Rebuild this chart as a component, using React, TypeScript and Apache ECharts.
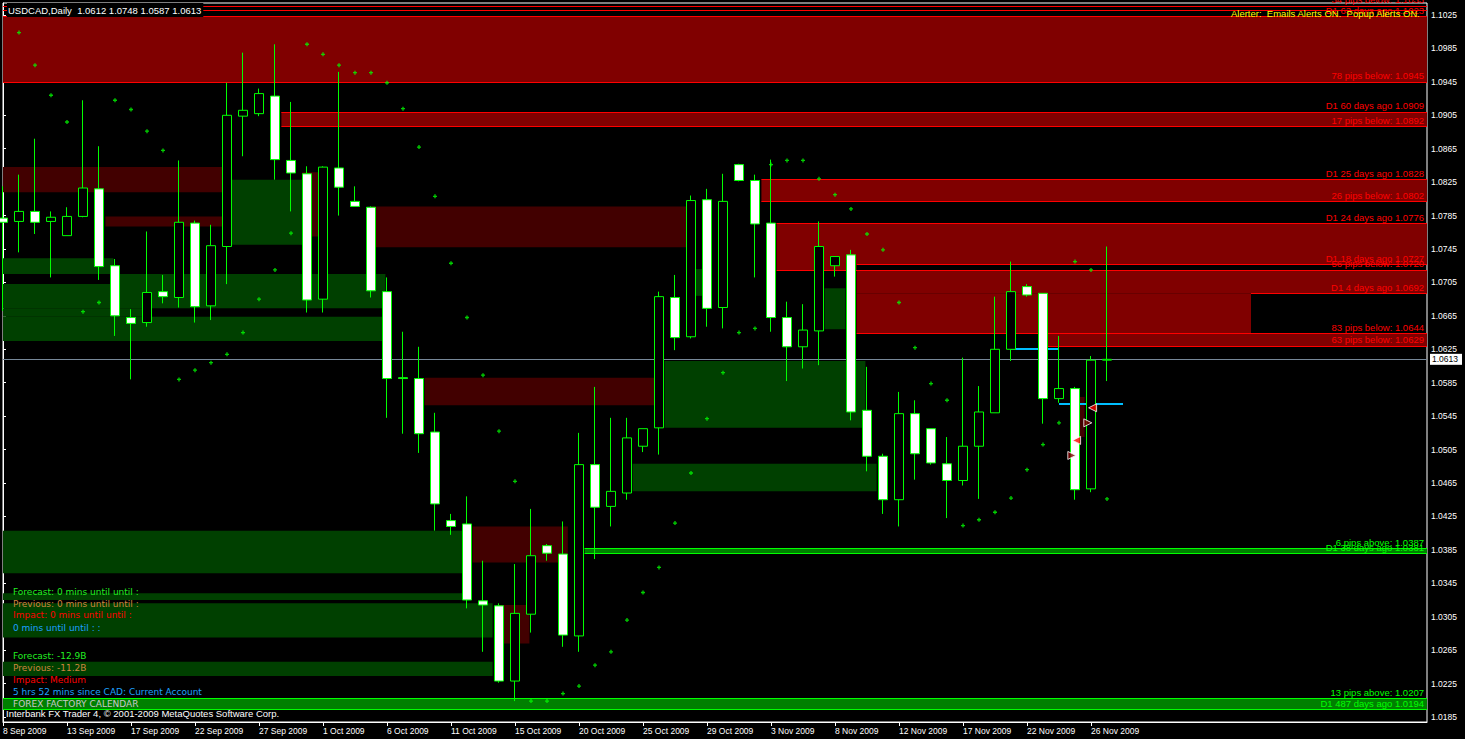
import React, { useEffect, useRef } from 'react';
import * as echarts from 'echarts';

// ---------- data ----------
const dates = [
  '8 Sep 2009','9 Sep 2009','10 Sep 2009','11 Sep 2009','13 Sep 2009','14 Sep 2009','15 Sep 2009','16 Sep 2009','17 Sep 2009','18 Sep 2009',
  '20 Sep 2009','21 Sep 2009','22 Sep 2009','23 Sep 2009','24 Sep 2009','25 Sep 2009','27 Sep 2009','28 Sep 2009','29 Sep 2009','30 Sep 2009',
  '1 Oct 2009','2 Oct 2009','4 Oct 2009','5 Oct 2009','6 Oct 2009','7 Oct 2009','8 Oct 2009','9 Oct 2009','11 Oct 2009','12 Oct 2009',
  '13 Oct 2009','14 Oct 2009','15 Oct 2009','16 Oct 2009','18 Oct 2009','19 Oct 2009','20 Oct 2009','21 Oct 2009','22 Oct 2009','23 Oct 2009',
  '25 Oct 2009','26 Oct 2009','27 Oct 2009','28 Oct 2009','29 Oct 2009','30 Oct 2009','1 Nov 2009','2 Nov 2009','3 Nov 2009','4 Nov 2009',
  '5 Nov 2009','6 Nov 2009','8 Nov 2009','9 Nov 2009','10 Nov 2009','11 Nov 2009','12 Nov 2009','13 Nov 2009','15 Nov 2009','16 Nov 2009',
  '17 Nov 2009','18 Nov 2009','19 Nov 2009','20 Nov 2009','22 Nov 2009','23 Nov 2009','24 Nov 2009','25 Nov 2009','26 Nov 2009','27 Nov 2009'
];
const opens = [
  1.0782,1.0778,1.0790,1.0778,1.0761,1.0784,1.0817,1.0725,1.0663,1.0657,
  1.0694,1.0687,1.0776,1.0677,1.0748,1.0904,1.0907,1.0928,1.0851,1.0835,
  1.0685,1.0842,1.0802,1.0795,1.0694,1.0591,1.0590,1.0526,1.0420,1.0416,
  1.0324,1.0318,1.0228,1.0308,1.0390,1.0380,1.0282,1.0487,1.0437,1.0453,
  1.0509,1.0531,1.0687,1.0640,1.0804,1.0675,1.0846,1.0827,1.0776,1.0663,
  1.0628,1.0647,1.0725,1.0738,1.0552,1.0497,1.0445,1.0548,1.0530,1.0488,
  1.0468,1.0509,1.0549,1.0625,1.0700,1.0692,1.0566,1.0578,1.0458,1.0612
];
const highs = [
  1.0820,1.0834,1.0877,1.0790,1.0795,1.0923,1.0868,1.0733,1.0673,1.0766,
  1.0714,1.0851,1.0779,1.0774,1.0944,1.0980,1.0937,1.0990,1.0921,1.0844,
  1.0844,1.0957,1.0820,1.0796,1.0711,1.0646,1.0628,1.0549,1.0428,1.0449,
  1.0372,1.0321,1.0368,1.0434,1.0392,1.0419,1.0525,1.0580,1.0543,1.0543,
  1.0530,1.0694,1.0714,1.0809,1.0817,1.0835,1.0847,1.0834,1.0852,1.0682,
  1.0679,1.0778,1.0736,1.0744,1.0604,1.0500,1.0574,1.0564,1.0530,1.0520,
  1.0615,1.0581,1.0688,1.0730,1.0703,1.0692,1.0641,1.0580,1.0617,1.0748
];
const lows = [
  1.0671,1.0741,1.0763,1.0711,1.0761,1.0783,1.0708,1.0641,1.0589,1.0652,
  1.0680,1.0675,1.0657,1.0660,1.0703,1.0856,1.0904,1.0828,1.0790,1.0669,
  1.0669,1.0785,1.0796,1.0687,1.0543,1.0524,1.0501,1.0408,1.0403,1.0315,
  1.0263,1.0226,1.0204,1.0286,1.0372,1.0269,1.0263,1.0374,1.0413,1.0445,
  1.0502,1.0499,1.0624,1.0638,1.0652,1.0650,1.0826,1.0711,1.0646,1.0587,
  1.0602,1.0606,1.0712,1.0540,1.0479,1.0428,1.0413,1.0469,1.0487,1.0423,
  1.0462,1.0446,1.0549,1.0611,1.0688,1.0536,1.0561,1.0445,1.0454,1.0587
];
const closes = [
  1.0777,1.0790,1.0777,1.0783,1.0784,1.0818,1.0724,1.0665,1.0656,1.0693,
  1.0688,1.0777,1.0676,1.0749,1.0905,1.0911,1.0931,1.0852,1.0836,1.0684,
  1.0843,1.0819,1.0796,1.0695,1.0590,1.0590,1.0524,1.0440,1.0413,1.0325,
  1.0319,1.0228,1.0309,1.0378,1.0381,1.0283,1.0487,1.0436,1.0455,1.0519,
  1.0530,1.0688,1.0639,1.0803,1.0674,1.0802,1.0827,1.0775,1.0663,1.0628,
  1.0648,1.0748,1.0736,1.0550,1.0497,1.0445,1.0548,1.0500,1.0489,1.0468,
  1.0509,1.0550,1.0625,1.0694,1.0690,1.0566,1.0578,1.0457,1.0612,1.0613
];
// Parabolic SAR
const sar = [
  null,1.1004,1.0965,1.0929,1.0897,1.0670,1.0681,1.0923,1.0912,1.0886,
  1.0863,1.0589,1.0600,1.0609,1.0619,1.0645,1.0685,1.0720,1.0764,1.0990,
  1.0978,1.0965,1.0956,1.0956,1.0944,1.0913,1.0867,1.0808,1.0728,1.0663,
  1.0594,1.0527,1.0467,1.0204,1.0204,1.0213,1.0222,1.0247,1.0263,1.0301,
  1.0334,1.0364,1.0417,1.0477,1.0542,1.0597,1.0645,1.0650,1.0846,1.0851,
  1.0851,1.0829,1.0810,1.0793,1.0763,1.0744,1.0681,1.0627,1.0584,1.0564,
  1.0414,1.0421,1.0430,1.0447,1.0481,1.0511,1.0537,1.0730,1.0720,1.0446
];
const yTicks = [
  1.0185,1.0225,1.0265,1.0305,1.0345,1.0385,1.0425,1.0465,1.0505,1.0545,1.0585,
  1.0625,1.0665,1.0705,1.0745,1.0785,1.0825,1.0865,1.0905,1.0945,1.0985,1.1025
];
const emptySlots = 20;
const priceMin = 1.0179;
const priceMax = 1.10394;

// zones: [startBar, endBar, top, bottom]
const brightRedZones = [
  [0, 89, 1.1023, 1.0945],
  [17.4, 89, 1.0909, 1.0892],
  [47.4, 89, 1.0828, 1.0802],
  [48.35, 89, 1.0776, 1.0727],
  [48.35, 53.35, 1.0727, 1.0720],
  [53.35, 89, 1.0720, 1.0692],
  [53.35, 78, 1.0692, 1.0644],
  [65.3, 89, 1.0644, 1.0629],
];
const darkRedZones = [
  [0, 13.7, 1.0843, 1.0813],
  [6.4, 13.7, 1.0784, 1.0772],
  [23.05, 42.7, 1.0796, 1.0747],
  [26.35, 40.7, 1.0591, 1.0558],
  [29.35, 35.3, 1.0413, 1.0370],
  [31.0, 32.9, 1.0319, 1.0273],
  [18.7, 20.0, 1.0837, 1.0760],
  [67.0, 67.6, 1.0568, 1.0520],
];
const darkGreenZones = [
  [14.2, 18.7, 1.0828, 1.0750],
  [0, 6.9, 1.0734, 1.0715],
  [6.9, 23.9, 1.0715, 1.0674],
  [0, 6.9, 1.0703, 1.0674],
  [0, 9.2, 1.0674, 1.0664],
  [0, 23.7, 1.0664, 1.0635],
  [41.35, 53.9, 1.0611, 1.0531],
  [51.35, 52.65, 1.0698, 1.0649],
  [42.9, 43.85, 1.0721, 1.0689],
  [39.35, 54.6, 1.0488, 1.0455],
  [0, 28.7, 1.0408, 1.0357],
  [0, 28.7, 1.0333, 1.0325],
  [0, 30.6, 1.0321, 1.0280],
  [0, 30.6, 1.0251, 1.0234],
];
const brightGreenZones = [
  [36.35, 89, 1.0387, 1.0381],
  [0, 89, 1.0207, 1.0194],
];
// levels: [startBar, price, label]
const redLevels: [number, number, string][] = [
  [0, 1.1036, '34 pips below: 1.1033'],
  [0, 1.1031, ''],
  [0, 1.1023, 'D1 63 days ago 1.1023'],
  [0, 1.0945, '78 pips below: 1.0945'],
  [17.4, 1.0909, 'D1 60 days ago 1.0909'],
  [17.4, 1.0892, '17 pips below: 1.0892'],
  [47.4, 1.0828, 'D1 25 days ago 1.0828'],
  [47.4, 1.0802, '26 pips below: 1.0802'],
  [48.35, 1.0776, 'D1 24 days ago 1.0776'],
  [53.35, 1.0727, 'D1 18 days ago 1.0727'],
  [48.35, 1.0720, '56 pips below: 1.0720'],
  [78, 1.0692, 'D1 4 days ago 1.0692'],
  [53.35, 1.0644, '83 pips below: 1.0644'],
  [65.3, 1.0629, '63 pips below: 1.0629'],
];
const greenLevels: [number, number, string][] = [
  [36.35, 1.0387, '6 pips above: 1.0387'],
  [36.35, 1.0381, 'D1 38 days ago 1.0381'],
  [0, 1.0207, '13 pips above: 1.0207'],
  [0, 1.0194, 'D1 487 days ago 1.0194'],
];
// [startBar, endBar, price]
const cyanSegments = [
  [63, 66, 1.0626],
  [66, 70, 1.0560],
];
const arrowBars = [68.1, 67.8, 67.1, 66.8];
const arrowPrices = [1.0555, 1.0537, 1.0516, 1.0498];
const arrowPointsLeft = [true, false, true, false];

const calendarLines: [string, string][] = [
  ['Forecast: 0 mins until until :', '#22ee22'],
  ['Previous: 0 mins until until :', '#cd853f'],
  ['Impact: 0 mins until until :', '#ff0000'],
  ['0 mins until until : :', '#1ea0ff'],
  ['Forecast: -12.9B', '#22ee22'],
  ['Previous: -11.2B', '#cd853f'],
  ['Impact: Medium', '#ff0000'],
  ['5 hrs 52 mins since CAD: Current Account', '#1ea0ff'],
  ['FOREX FACTORY CALENDAR', '#c8c8c8'],
];
const calendarTops = [587, 599, 610, 623, 651, 663, 675, 687, 699];

const MT = '"Liberation Sans", Arial, sans-serif';
const DV = '"DejaVu Sans", sans-serif';

export default function App() {
  const ref = useRef<HTMLDivElement>(null);
  useEffect(() => {
    if (!ref.current) return;
    const chart = echarts.init(ref.current, undefined, { renderer: 'svg' });
    const n = dates.length;
    const categories = dates.concat(Array.from({ length: emptySlots }, (_, i) => 'slot' + (n + i)));
    const lastIdx = categories.length - 1;
    const showTick = (i: number) => i < n && i % 4 === 0;
    const last = n - 1;
    const lastClose = closes[last];

    const zoneItems = (zones: number[][], color: string) =>
      zones.map((z) => [
        { coord: [z[0], z[2]], itemStyle: { color, borderWidth: 0 } },
        { coord: [Math.min(z[1], lastIdx), z[3]] },
      ]);
    const levelItems = (levels: [number, number, string][], color: string) =>
      levels.map(([s, p, t]) => [
        {
          coord: [s, p],
          lineStyle: { color, width: 1, type: 'solid' },
          label: {
            show: !!t,
            formatter: t,
            position: 'insideEndTop',
            distance: [3, 1],
            color,
            fontFamily: MT,
            fontSize: 9.5,
          },
        },
        { coord: [lastIdx, p] },
      ]);

    const option: any = {
      animation: false,
      backgroundColor: '#000',
      grid: {
        left: 3, right: 37, top: 3, bottom: 17,
        show: true, borderColor: '#fff', borderWidth: 1, backgroundColor: '#000',
      },
      xAxis: [
        {
          type: 'category',
          data: categories,
          boundaryGap: false,
          axisLine: { show: true, lineStyle: { color: '#fff' } },
          axisTick: { show: true, length: 4, interval: showTick, lineStyle: { color: '#fff' } },
          axisLabel: {
            interval: showTick,
            color: '#fff',
            fontFamily: MT,
            fontSize: 8.5,
            align: 'left',
            margin: 4,
            formatter: (v: string, i: number) => (i < n ? v : ''),
          },
          splitLine: { show: false },
        },
        { type: 'value', min: 0, max: lastIdx, show: false },
      ],
      yAxis: [
        {
          type: 'value',
          position: 'right',
          min: priceMin,
          max: priceMax,
          axisLine: { show: true, lineStyle: { color: '#fff' } },
          axisTick: { show: true, length: 3, customValues: yTicks, lineStyle: { color: '#fff' } },
          axisLabel: {
            customValues: yTicks,
            color: '#fff',
            fontFamily: MT,
            fontSize: 8.5,
            margin: 4,
            formatter: (v: number) => v.toFixed(4),
          },
          splitLine: { show: false },
        },
        {
          type: 'value',
          position: 'right',
          min: priceMin,
          max: priceMax,
          axisLine: { show: false },
          axisTick: { show: false },
          splitLine: { show: false },
          axisLabel: {
            customValues: [lastClose],
            formatter: (v: number) => v.toFixed(4),
            color: '#000',
            backgroundColor: '#fff',
            padding: [1, 4, 1, 2],
            margin: 3,
            fontFamily: MT,
            fontSize: 8.5,
          },
        },
      ],
      series: [
        {
          type: 'line', xAxisIndex: 1, yAxisIndex: 0, data: [], z: 1, silent: true,
          markArea: {
            silent: true,
            label: { show: false },
            data: [
              ...zoneItems(darkRedZones, '#420000'),
              ...zoneItems(darkGreenZones, '#004000'),
            ],
          },
        },
        {
          type: 'line', xAxisIndex: 1, yAxisIndex: 0, data: [], z: 2, silent: true,
          markArea: {
            silent: true,
            label: { show: false },
            data: [
              ...zoneItems(brightRedZones, '#800000'),
              ...zoneItems(brightGreenZones, '#008000'),
            ],
          },
        },
        {
          type: 'line', xAxisIndex: 1, yAxisIndex: 0, data: [], z: 3, silent: true,
          markLine: {
            silent: true,
            precision: 5,
            symbol: ['none', 'none'],
            data: [
              ...levelItems(redLevels, '#ff0000'),
              ...levelItems(greenLevels, '#00ff00'),
              {
                yAxis: lastClose,
                lineStyle: { color: '#778899', width: 1, type: 'solid' },
                label: { show: false },
              },
            ],
          },
        },
        {
          type: 'candlestick',
          xAxisIndex: 0,
          yAxisIndex: 0,
          z: 5,
          barWidth: 10,
          data: dates.map((_, i) => [opens[i], closes[i], lows[i], highs[i]]),
          itemStyle: {
            color: '#000000',
            color0: '#ffffff',
            borderColor: '#00ff00',
            borderColor0: '#00ff00',
            borderColorDoji: '#00ff00',
            borderWidth: 1,
          },
        },
        {
          type: 'scatter',
          xAxisIndex: 0,
          yAxisIndex: 0,
          z: 6,
          silent: true,
          symbol: 'path://M1,0H2V1H3V2H2V3H1V2H0V1H1Z',
          symbolSize: 4,
          itemStyle: { color: '#00ff00' },
          data: sar,
        },
        {
          type: 'line', xAxisIndex: 1, yAxisIndex: 0, data: [], z: 7, silent: true,
          markLine: {
            silent: true,
            precision: 5,
            symbol: ['none', 'none'],
            label: { show: false },
            lineStyle: { color: '#00bfff', width: 2, type: 'solid' },
            data: cyanSegments.map(([a, b, p]) => [{ coord: [a, p] }, { coord: [b, p] }]),
          },
        },
        {
          type: 'scatter',
          xAxisIndex: 1,
          yAxisIndex: 0,
          z: 8,
          silent: true,
          symbol: 'triangle',
          symbolSize: [8, 8],
          data: arrowBars.map((b, i) => ({
            value: [b, arrowPrices[i]],
            symbolRotate: arrowPointsLeft[i] ? 90 : -90,
            itemStyle: {
              color: arrowPointsLeft[i] ? '#ff0000' : '#800000',
              borderColor: '#ffffff',
              borderWidth: 1,
            },
          })),
        },
      ],
      graphic: [
        {
          type: 'text', left: 7, top: 3, z: 100,
          style: {
            text: `USDCAD,Daily  ${opens[last].toFixed(4)} ${highs[last].toFixed(4)} ${lows[last].toFixed(4)} ${closes[last].toFixed(4)}`,
            fill: '#fff',
            font: `9.5px ${MT}`,
            backgroundColor: '#000',
            padding: [2, 2, 2, 1],
          },
        },
        {
          type: 'text', right: 44, top: 8, z: 100,
          style: {
            text: 'Alerter:  Emails Alerts ON.  Popup Alerts ON.',
            fill: '#ffff00',
            font: `9.5px ${MT}`,
          },
        },
        ...calendarLines.map(([t, c], i) => ({
          type: 'text', left: 13, top: calendarTops[i], z: 100,
          style: { text: t, fill: c, font: `9px ${DV}` },
        })),
        {
          type: 'text', left: 6, top: 708, z: 100,
          style: {
            text: 'Interbank FX Trader 4, © 2001-2009 MetaQuotes Software Corp.',
            fill: '#fff',
            font: `9.5px ${MT}`,
          },
        },
      ],
    };
    chart.setOption(option);
    return () => chart.dispose();
  }, []);
  return (
    <div
      ref={ref}
      style={{ position: 'fixed', left: 0, top: 0, width: 1465, height: 739, background: '#000' }}
    />
  );
}
